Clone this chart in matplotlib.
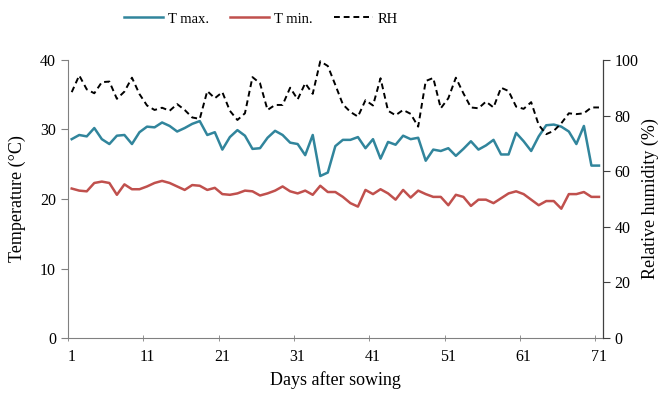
import numpy as np
import matplotlib
matplotlib.use("Agg")
import matplotlib.pyplot as plt

plt.rcParams['font.family'] = ['Liberation Serif', 'DejaVu Serif']

# Days after sowing
days = list(range(1, 72))

# Maximum temperature (°C)
t_max = [28.6, 29.2, 29.0, 30.2, 28.6, 27.9, 29.1, 29.2, 27.9, 29.6,
         30.4, 30.3, 31.0, 30.5, 29.7, 30.2, 30.8, 31.2, 29.2, 29.6,
         27.1, 28.9, 29.9, 29.1, 27.2, 27.3, 28.8, 29.8, 29.2, 28.1,
         27.9, 26.3, 29.2, 23.3, 23.8, 27.6, 28.5, 28.5, 28.9, 27.3,
         28.6, 25.8, 28.2, 27.8, 29.1, 28.6, 28.8, 25.5, 27.1, 26.9,
         27.3, 26.2, 27.2, 28.3, 27.1, 27.7, 28.5, 26.4, 26.4, 29.5,
         28.3, 26.9, 29.0, 30.6, 30.7, 30.4, 29.7, 27.9, 30.5, 24.8,
         24.8]

# Minimum temperature (°C)
t_min = [21.5, 21.2, 21.1, 22.3, 22.5, 22.3, 20.6, 22.1, 21.4, 21.4,
         21.8, 22.3, 22.6, 22.3, 21.8, 21.3, 22.0, 21.9, 21.3, 21.6,
         20.7, 20.6, 20.8, 21.2, 21.1, 20.5, 20.8, 21.2, 21.8, 21.1,
         20.8, 21.2, 20.6, 21.9, 21.0, 21.0, 20.3, 19.4, 18.9, 21.3,
         20.7, 21.4, 20.8, 19.9, 21.3, 20.2, 21.2, 20.7, 20.3, 20.3,
         19.1, 20.6, 20.3, 19.0, 19.9, 19.9, 19.4, 20.1, 20.8, 21.1,
         20.7, 19.9, 19.1, 19.7, 19.7, 18.6, 20.7, 20.7, 21.0, 20.3,
         20.3]

# Relative humidity (%)
rh = [88.4, 94.4, 89.4, 88.0, 92.0, 92.2, 86.0, 88.6, 93.6, 87.7,
      83.6, 82.0, 82.8, 81.7, 84.1, 82.0, 79.3, 78.8, 88.8, 86.2,
      88.4, 81.7, 78.4, 80.8, 93.8, 91.6, 82.0, 83.8, 83.8, 90.0,
      85.8, 91.6, 87.8, 99.5, 97.8, 91.0, 84.0, 81.3, 79.6, 85.5,
      83.6, 93.4, 81.7, 80.1, 82.0, 80.6, 76.0, 92.4, 93.5, 82.6,
      86.2, 93.6, 88.0, 82.9, 82.6, 85.0, 82.9, 90.0, 88.8, 83.2,
      82.4, 84.8, 76.6, 73.3, 74.5, 77.2, 80.8, 80.5, 80.8, 82.9,
      82.9]

tick_days = [1, 11, 21, 31, 41, 51, 61, 71]

fig = plt.figure(figsize=(6.66, 3.94), dpi=100)
ax = fig.add_axes([0.102, 0.142, 0.803, 0.706])
ax2 = ax.twinx()

l1, = ax.plot(days, t_max, color='#31859C', lw=1.8, label='T max.')
l2, = ax.plot(days, t_min, color='#C0504D', lw=1.8, label='T min.')
l3, = ax2.plot(days, rh, color='black', lw=1.4, ls=(0, (3, 2)), label='RH')

ax.set_xlim(0.5, 71.5)
ax.set_ylim(0, 40)
ax2.set_ylim(0, 100)

# category-style axis: labels on days, tick marks between them
ax.set_xticks(tick_days)
ax.set_xticks([d - 0.5 for d in tick_days], minor=True)
ax.tick_params(axis='x', which='major', length=0, labelsize=11.5, pad=8)
ax.tick_params(axis='x', which='minor', length=5, direction='inout', color='#808080')
ax.set_yticks([0, 10, 20, 30, 40])
ax.tick_params(axis='y', length=5, direction='out', labelsize=11.5, color='#808080')
ax2.set_yticks([0, 20, 40, 60, 80, 100])
ax2.tick_params(axis='y', length=5, direction='out', labelsize=11.5, color='#404040')

for a in (ax, ax2):
    a.spines['top'].set_visible(False)
ax.spines['left'].set_color('#808080')
ax.spines['bottom'].set_color('#808080')
ax2.spines['left'].set_visible(False)
ax2.spines['bottom'].set_visible(False)
ax2.spines['right'].set_color('#404040')

ax.set_xlabel('Days after sowing', fontsize=13)
ax.set_ylabel('Temperature (°C)', fontsize=13, labelpad=10)
ax2.set_ylabel('Relative humidity (%)', fontsize=13, rotation=90, labelpad=2)

fig.legend(handles=[l1, l2, l3], loc='center', bbox_to_anchor=(0.392, 0.952),
           ncol=3, frameon=False, fontsize=10.5, handlelength=2.7,
           columnspacing=1.4, handletextpad=0.35)

fig.savefig('out.png', dpi=100)
